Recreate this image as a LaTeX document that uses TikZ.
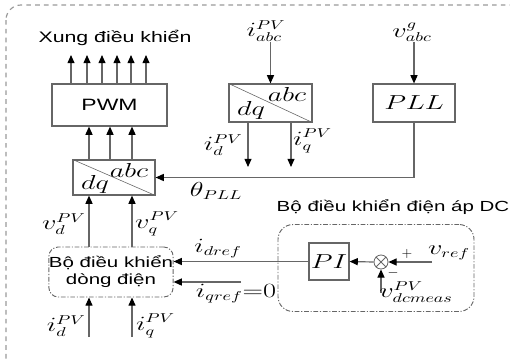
\documentclass[tikz,border=0pt]{standalone}
\usepackage{fontspec}
\setmainfont[FakeStretch=1.4]{Liberation Sans}
\usepackage{graphicx}
\usetikzlibrary{arrows.meta}
\newcommand{\mlab}[1]{\scalebox{1.4}[1]{$#1$}}

\begin{document}
\begin{tikzpicture}[x=0.03cm, y=-0.03cm,
    arr/.style={draw=black!60, line width=1pt, -{Triangle[length=7pt, width=6pt, black]}},
    blk/.style={rectangle, draw=black!60, line width=1pt, inner sep=0pt},
    ctl/.style={rectangle, draw=black!60, line width=0.8pt, rounded corners=8pt, dash pattern=on 4pt off 1.5pt on 1pt off 1.5pt, inner sep=0pt},
    txt/.style={font=\fontsize{12.5}{14.5}\selectfont, align=center},
    lab/.style={font=\fontsize{16}{18}\selectfont, inner sep=0pt},
  ]
  \useasboundingbox (0,0) rectangle (510,359);

  % outer frame
  \draw[black!40, line width=1pt, dash pattern=on 4pt off 3.5pt, rounded corners=0.45cm] (6,5) rectangle (535,380);

  % PWM and outputs
  \node[txt, font=\fontsize{13}{15}\selectfont] (xung) at (115,38) {Xung điều khiển};
  \node[blk, minimum width=3.45cm, minimum height=1.26cm, txt, font=\fontsize{14}{16}\selectfont] (pwm) at (109.5,105) {PWM};
  \foreach \xx [count=\k] in {71,87,102,117,131,146} {
    \coordinate (out\k) at (\xx,55);
    \draw[arr] (out\k |- pwm.north) -- (out\k);
  }

  % dq/abc (lower)
  \node[blk, minimum width=2.46cm, minimum height=1.05cm] (dqlow) at (114,177.5) {};
  \draw[black!60, line width=0.5pt] (dqlow.north west) -- (dqlow.south east);
  \node[lab] at (129,170) {\mlab{abc}};
  \node[lab] at (95,184) {\mlab{dq}};
  \foreach \xx [count=\k] in {89,110,132} {
    \coordinate (mod\k) at (\xx,140);
    \draw[arr] (mod\k |- dqlow.north) -- (mod\k |- pwm.south);
  }

  % abc/dq (upper)
  \node[blk, minimum width=2.49cm, minimum height=1.14cm] (dqup) at (270.5,103) {};
  \draw[black!60, line width=0.5pt] (dqup.north west) -- (dqup.south east);
  \node[lab] at (287,94) {\mlab{abc}};
  \node[lab] at (251,110) {\mlab{dq}};
  \node[lab] (ipvabc) at (266,31) {\mlab{i^{PV}_{abc}}};
  \draw[arr] (dqup.north |- ipvabc.south) -- (dqup.north);
  \coordinate (idup) at (248,167);
  \coordinate (iqup) at (291,167);
  \draw[arr] (idup |- dqup.south) -- (idup);
  \draw[arr] (iqup |- dqup.south) -- (iqup);
  \node[lab, anchor=east] at (243,145) {\mlab{i_d^{PV}}};
  \node[lab, anchor=west] at (293,141) {\mlab{i_q^{PV}}};

  % PLL
  \node[blk, minimum width=2.46cm, minimum height=1.14cm, lab] (pll) at (414,103) {\mlab{PLL}};
  \node[lab] (vgabc) at (412,32) {\mlab{v^{g}_{abc}}};
  \draw[arr] (pll.north |- vgabc.south) -- (pll.north);
  \draw[arr] (pll.south) |- (dqlow.east);
  \node[lab] at (216,191) {\mlab{\theta_{PLL}}};

  % current controller
  \node[ctl, minimum width=3.72cm, minimum height=1.5cm, txt] (cur) at (111,272) {Bộ điều khiển\\dòng điện};
  \coordinate (vd) at (89,220);
  \coordinate (vq) at (132,220);
  \draw[arr] (vd |- cur.north) -- (vd |- dqlow.south);
  \draw[arr] (vq |- cur.north) -- (vq |- dqlow.south);
  \node[lab, anchor=east] at (86,224) {\mlab{v_d^{PV}}};
  \node[lab, anchor=west] at (135,224) {\mlab{v_q^{PV}}};
  \coordinate (idb) at (89,337);
  \coordinate (iqb) at (132,337);
  \draw[arr] (idb) -- (idb |- cur.south);
  \draw[arr] (iqb) -- (iqb |- cur.south);
  \node[lab, anchor=east] at (86,326) {\mlab{i_d^{PV}}};
  \node[lab, anchor=west] at (136,326) {\mlab{i_q^{PV}}};

  % DC voltage controller
  \node[txt] (dctitle) at (393,207) {Bộ điều khiển điện áp DC};
  \node[ctl, rounded corners=0.45cm, minimum width=5.88cm, minimum height=2.61cm] (dcbox) at (376,268) {};
  \node[blk, minimum width=1.2cm, minimum height=1.11cm, lab] (pi) at (329,261.5) {\mlab{PI}};
  \node[circle, draw=black!60, line width=0.7pt, minimum size=0.42cm, inner sep=0pt] (sum) at (381,262) {};
  \draw[black!60, line width=0.7pt] (sum.north west) -- (sum.south east) (sum.north east) -- (sum.south west);
  \draw[arr] (sum.west) -- (pi.east);
  \coordinate (vr) at (432,262);
  \draw[arr] (vr) -- (sum.east);
  \node[lab] at (449,253) {\mlab{v_{ref}}};
  \node[lab, font=\fontsize{13}{15}\selectfont] at (407,254) {$+$};
  \coordinate (vdc) at (381,293);
  \draw[arr] (vdc) -- (sum.south);
  \node[lab, font=\fontsize{13}{15}\selectfont] at (393,273) {$-$};
  \node[lab] at (416,292) {\mlab{v^{PV}_{dcmeas}}};

  % references
  \draw[arr] (pi.west) -- (pi.west -| cur.east);
  \node[lab] at (218,249) {\mlab{i_{dref}}};
  \coordinate (iq0) at (241,282);
  \draw[arr] (iq0) -- (iq0 -| cur.east);
  \node[lab] at (236,294) {\mlab{i_{qref}{=}0}};
\end{tikzpicture}
\end{document}
